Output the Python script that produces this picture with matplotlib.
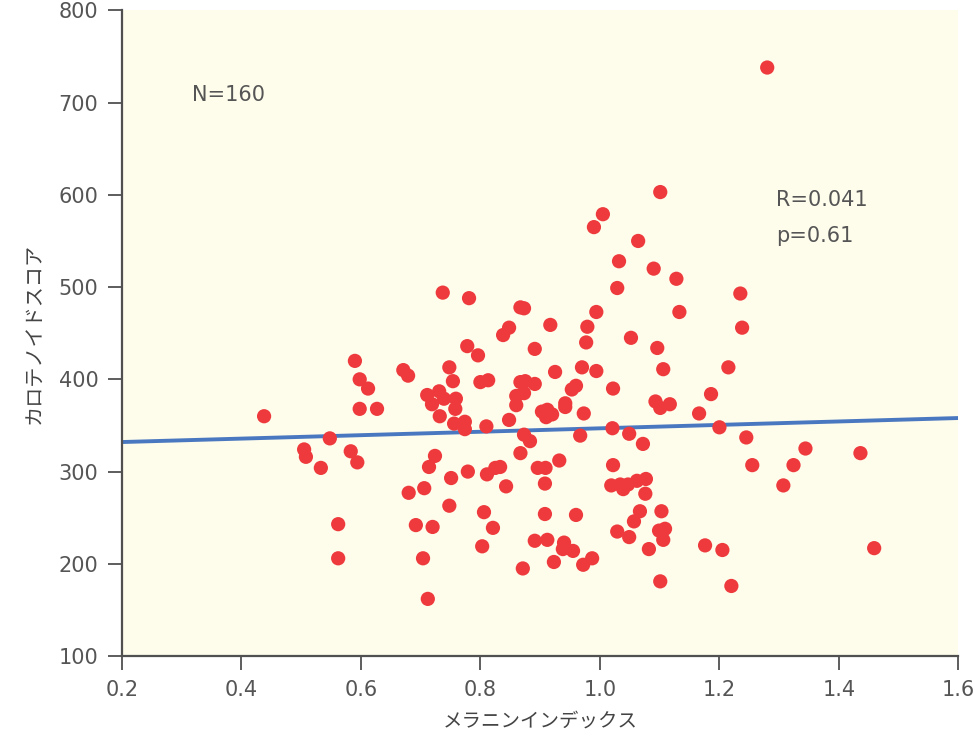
import matplotlib
matplotlib.use("Agg")
import matplotlib.pyplot as plt
import numpy as np

plt.rcParams['font.family'] = ['DejaVu Sans', 'Noto Sans CJK JP']

melanin = [0.438, 0.505, 0.508, 0.533, 0.548, 0.562, 0.562, 0.583, 0.590, 0.598,
           0.612, 0.598, 0.627, 0.594, 0.671, 0.679, 0.680, 0.692, 0.706, 0.704,
           0.712, 0.711, 0.719, 0.731, 0.739, 0.737, 0.724, 0.714, 0.720, 0.732,
           0.748, 0.754, 0.759, 0.758, 0.756, 0.748, 0.751, 0.774, 0.774, 0.778,
           0.781, 0.779, 0.796, 0.800, 0.813, 0.810, 0.806, 0.803, 0.811, 0.825,
           0.833, 0.821, 0.843, 0.838, 0.848, 0.848, 0.860, 0.860, 0.867, 0.873,
           0.867, 0.873, 0.875, 0.867, 0.873, 0.883, 0.891, 0.891, 0.896, 0.891,
           0.871, 0.909, 0.908, 0.912, 0.908, 0.917, 0.903, 0.912, 0.920, 0.910,
           0.925, 0.932, 0.923, 0.940, 0.938, 0.955, 0.942, 0.942, 0.953, 0.960,
           0.960, 0.967, 0.970, 0.972, 0.973, 0.977, 0.979, 0.987, 0.990, 0.994,
           0.994, 1.005, 1.019, 1.022, 1.022, 1.021, 1.029, 1.032, 1.029, 1.034,
           1.039, 1.047, 1.049, 1.052, 1.049, 1.057, 1.062, 1.064, 1.067, 1.072,
           1.076, 1.077, 1.082, 1.090, 1.093, 1.096, 1.101, 1.101, 1.106, 1.103,
           1.099, 1.109, 1.106, 1.101, 1.117, 1.128, 1.133, 1.166, 1.176, 1.186,
           1.200, 1.205, 1.215, 1.220, 1.235, 1.238, 1.245, 1.255, 1.280, 1.307,
           1.324, 1.344, 1.436, 1.459]
carotenoid = [360, 324, 316, 304, 336, 243, 206, 322, 420, 400,
              390, 368, 368, 310, 410, 404, 277, 242, 282, 206,
              162, 383, 373, 387, 379, 494, 317, 305, 240, 360,
              413, 398, 379, 368, 352, 263, 293, 354, 346, 436,
              488, 300, 426, 397, 399, 349, 256, 219, 297, 304,
              305, 239, 284, 448, 456, 356, 372, 382, 478, 477,
              397, 385, 398, 320, 340, 333, 433, 395, 304, 225,
              195, 304, 287, 226, 254, 459, 365, 367, 362, 359,
              408, 312, 202, 223, 216, 214, 370, 374, 389, 393,
              253, 339, 413, 199, 363, 440, 457, 206, 565, 409,
              473, 579, 285, 390, 307, 347, 499, 528, 235, 286,
              281, 286, 341, 445, 229, 246, 290, 550, 257, 330,
              276, 292, 216, 520, 376, 434, 369, 603, 411, 257,
              236, 238, 226, 181, 373, 509, 473, 363, 220, 384,
              348, 215, 413, 176, 493, 456, 337, 307, 738, 285,
              307, 325, 320, 217]

fit_intercept = 328.3
fit_slope = 18.6
fit_x = [0.2, 1.6]

x_ticks = [0.2, 0.4, 0.6, 0.8, 1.0, 1.2, 1.4, 1.6]
y_ticks = [100, 200, 300, 400, 500, 600, 700, 800]

fig = plt.figure(figsize=(9.75, 7.38), dpi=100)
ax = fig.add_axes([0.125, 0.111, 0.858, 0.875])
ax.set_facecolor('#FEFCEB')

ax.scatter(melanin, carotenoid, s=105, color='#EE3A3D', edgecolors='none', zorder=3)
fx = np.array(fit_x)
ax.plot(fx, fit_intercept + fit_slope * fx, color='#4A78C0', lw=2.8, zorder=2)

ax.set_xlim(0.2, 1.6)
ax.set_ylim(100, 800)
ax.set_xticks(x_ticks)
ax.set_xticklabels([f"{t:.1f}" for t in x_ticks])
ax.set_yticks(y_ticks)

for s in ['top', 'right']:
    ax.spines[s].set_visible(False)
for s in ['left', 'bottom']:
    ax.spines[s].set_color('#505050')
    ax.spines[s].set_linewidth(1.6)
ax.tick_params(axis='both', direction='out', length=10, width=1.3, color='#505050',
               labelcolor='#555555', labelsize=15, pad=7)

ax.set_xlabel('メラニンインデックス', fontsize=14, color='#444444', labelpad=8,
              family=['Noto Sans CJK JP', 'DejaVu Sans'])
ax.set_ylabel('カロテノイドスコア', fontsize=14.5, color='#444444', labelpad=10,
              family=['Noto Sans CJK JP', 'DejaVu Sans'])

ax.text(0.317, 708, 'N=160', fontsize=15, color='#555555', va='center', ha='left')
ax.text(1.295, 594, 'R=0.041', fontsize=15, color='#555555', va='center', ha='left')
ax.text(1.295, 555, 'p=0.61', fontsize=15, color='#555555', va='center', ha='left')

fig.savefig('out.png', dpi=100)
